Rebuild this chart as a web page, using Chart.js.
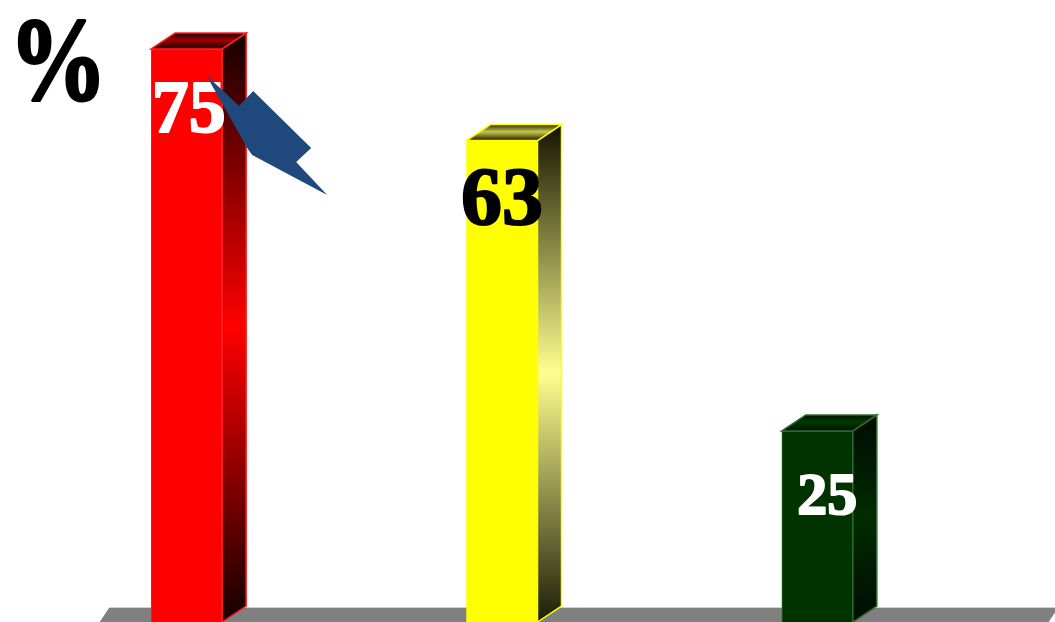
<!DOCTYPE html>
<html>
<head>
<meta charset="utf-8">
<script src="https://cdn.jsdelivr.net/npm/chart.js@4.4.1/dist/chart.umd.min.js"></script>
<style>
    html, body { margin: 0; padding: 0; background: #ffffff; }
    #wrap { position: relative; width: 1055px; height: 622px; overflow: hidden; }
</style>
</head>
<body>
<div id="wrap"><canvas id="chart"></canvas></div>
<script>
// Data
const categories = ['1', '2', '3'];
const values = [75, 63, 25];
const valueLabels = ['75', '63', '25'];
const unitLabel = '%';

// Styles
const frontColors = ['#ff0000', '#ffff00', '#003300'];
const edgeColors = ['#ff2020', '#ffff00', '#2e6b2e'];
const sideStops = [
    ['#140000', '#ff0000', '#140000'],
    ['#141400', '#ffff90', '#1c1c08'],
    ['#000c00', '#002c00', '#000c00']
];
const topStops = [
    ['#200000', '#a00000', '#1a0000'],
    ['#2a2a00', '#c8c850', '#1c1c00'],
    ['#001400', '#003a00', '#000c00']
];
const labelColors = ['#ffffff', '#000000', '#ffffff'];
const labelSizes = [74, 82, 60];
const labelDx = [2, 0, 10];
const DEPTH_X = 24;
const DEPTH_Y = 16;

/**
 * Floor under the bars
 */
const floorPlugin = {
    id: 'floor',
    beforeDatasetsDraw(chart) {
        const ctx = chart.ctx;
        const yBase = chart.scales.y.getPixelForValue(0);
        const top = yBase - 14;
        ctx.save();
        ctx.fillStyle = '#808080';
        ctx.beginPath();
        ctx.moveTo(109, top);
        ctx.lineTo(1058, top);
        ctx.lineTo(1048, yBase + 1);
        ctx.lineTo(99, yBase + 1);
        ctx.closePath();
        ctx.fill();
        ctx.strokeStyle = '#d0d0d0';
        ctx.beginPath();
        ctx.moveTo(109, top - 0.5);
        ctx.lineTo(1058, top - 0.5);
        ctx.stroke();
        ctx.restore();
    }
};

/**
 * 3D side / top faces, value labels and the arrow callout
 */
const solidPlugin = {
    id: 'solid',
    afterDatasetsDraw(chart) {
        const ctx = chart.ctx;
        const meta = chart.getDatasetMeta(0);
        const yBase = chart.scales.y.getPixelForValue(0);

        meta.data.forEach((bar, i) => {
            const left = bar.x - bar.width / 2;
            const right = bar.x + bar.width / 2;
            const top = bar.y;

            // side face
            const sg = ctx.createLinearGradient(0, top - DEPTH_Y, 0, yBase);
            sg.addColorStop(0, sideStops[i][0]);
            sg.addColorStop(0.5, sideStops[i][1]);
            sg.addColorStop(1, sideStops[i][2]);
            ctx.save();
            ctx.fillStyle = sg;
            ctx.strokeStyle = edgeColors[i];
            ctx.lineWidth = 1.5;
            ctx.beginPath();
            ctx.moveTo(right, top);
            ctx.lineTo(right + DEPTH_X, top - DEPTH_Y);
            ctx.lineTo(right + DEPTH_X, yBase - DEPTH_Y);
            ctx.lineTo(right, yBase);
            ctx.closePath();
            ctx.fill();
            ctx.stroke();

            // top face
            const tg = ctx.createLinearGradient(0, top - DEPTH_Y, 0, top);
            tg.addColorStop(0, topStops[i][0]);
            tg.addColorStop(0.45, topStops[i][1]);
            tg.addColorStop(1, topStops[i][2]);
            ctx.fillStyle = tg;
            ctx.beginPath();
            ctx.moveTo(left, top);
            ctx.lineTo(left + DEPTH_X, top - DEPTH_Y);
            ctx.lineTo(right + DEPTH_X, top - DEPTH_Y);
            ctx.lineTo(right, top);
            ctx.closePath();
            ctx.fill();
            ctx.stroke();

            // value label (slight stroke to make it heavier)
            ctx.fillStyle = labelColors[i];
            ctx.strokeStyle = labelColors[i];
            ctx.lineWidth = 2;
            ctx.lineJoin = 'round';
            ctx.font = `bold ${labelSizes[i]}px "Liberation Serif", "Times New Roman", serif`;
            ctx.textAlign = 'center';
            ctx.textBaseline = 'alphabetic';
            ctx.fillText(valueLabels[i], bar.x + labelDx[i], top + 83);
            ctx.strokeText(valueLabels[i], bar.x + labelDx[i], top + 83);
            ctx.restore();
        });

        // arrow callout pointing at the first bar
        const first = meta.data[0];
        const ax = first.x + first.width / 2;
        const ay = first.y;
        const pts = [[-16, 26], [17, 57], [31, 42], [89, 99], [74, 113], [105, 146], [30, 106], [25, 99]];
        ctx.save();
        ctx.fillStyle = '#1f497d';
        ctx.beginPath();
        pts.forEach(([dx, dy], k) => {
            if (k === 0) ctx.moveTo(ax + dx, ay + dy);
            else ctx.lineTo(ax + dx, ay + dy);
        });
        ctx.closePath();
        ctx.fill();
        ctx.restore();

        // unit label
        ctx.save();
        ctx.fillStyle = '#000000';
        ctx.strokeStyle = '#000000';
        ctx.lineWidth = 2.5;
        ctx.lineJoin = 'round';
        ctx.font = 'bold 98px "Liberation Serif", "Times New Roman", serif';
        ctx.textAlign = 'left';
        ctx.textBaseline = 'alphabetic';
        ctx.translate(9, 99);
        ctx.scale(1, 1.2);
        ctx.fillText(unitLabel, 0, 0);
        ctx.strokeText(unitLabel, 0, 0);
        ctx.restore();
    }
};

new Chart(document.getElementById('chart'), {
    type: 'bar',
    data: {
        labels: categories,
        datasets: [{
            data: values,
            backgroundColor: frontColors,
            borderColor: edgeColors,
            borderWidth: 1,
            barThickness: 71,
            categoryPercentage: 1,
            barPercentage: 1
        }]
    },
    options: {
        responsive: true,
        maintainAspectRatio: false,
        animation: false,
        events: [],
        layout: { padding: { left: 29, right: 80, top: 0, bottom: 0 } },
        plugins: {
            legend: { display: false },
            tooltip: { enabled: false }
        },
        scales: {
            x: { display: false, grid: { display: false } },
            y: { display: false, min: 0, max: 81.4, grid: { display: false } }
        }
    },
    plugins: [floorPlugin, solidPlugin]
});
</script>
</body>
</html>
